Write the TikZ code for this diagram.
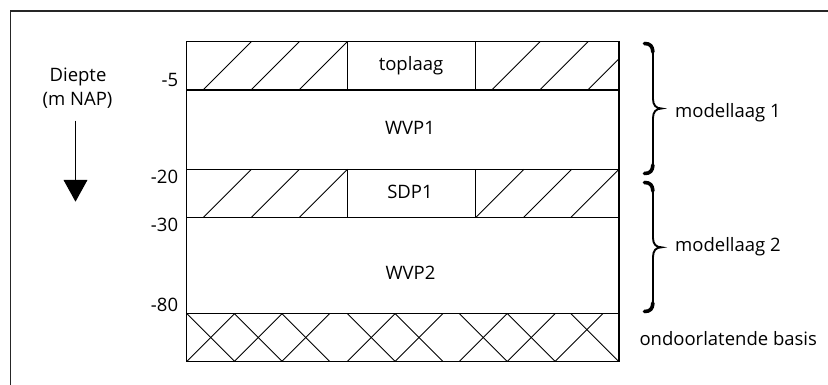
\documentclass[tikz,border=0pt]{standalone}
\usepackage{fontspec}
\setmainfont{Open Sans}
\usetikzlibrary{arrows.meta}
\begin{document}
\begin{tikzpicture}[x=1pt,y=-1pt,
  lbl/.style={font=\fontsize{18.5}{22}\selectfont, inner sep=0pt, text=black},
  outline/.style={line width=1.2pt, draw=black},
  hatch/.style={line width=0.9pt, draw=black},
  brace/.style={line width=1.9pt, line cap=round, draw=black},
  braceend/.style={line width=3.6pt, line cap=round, draw=black},
]
\useasboundingbox (0,0) rectangle (828,385);
% outer frame (open to the right and bottom)
\draw[line width=1.4pt, draw=black!85] (10.7,390) -- (10.7,11) -- (835,11);

% ---- hatching: toplaag layer (41.7 .. 90)
\foreach \b in {203,251,299}{\draw[hatch] (\b,90) -- ++(48.3,-48.3);}
\foreach \b in {491.7,539.7}{\draw[hatch] (\b,90) -- ++(48.3,-48.3);}
\draw[hatch] (587.7,90) -- (619,58.7);
% ---- hatching: SDP1 layer (169.3 .. 217.7)
\foreach \b in {203,251,299}{\draw[hatch] (\b,217.7) -- ++(48.4,-48.4);}
\foreach \b in {475.5,523.3,570.6}{\draw[hatch] (\b,217.7) -- ++(48.4,-48.4);}
% ---- cross hatching: ondoorlatende basis (313.5 .. 361.5)
\foreach \t in {186.7,234.3,281.7,347.3,395,459.3,507.3,570.7}{\draw[hatch] (\t,313.5) -- ++(48,48);}
\foreach \t in {186.7,234.3,281.7,347.3,395,459.3,507.3,555}{\draw[hatch] (\t,361.5) -- ++(48,-48);}

% ---- layer outlines
\draw[outline] (186.7,41.7) rectangle (619,361.5);
\draw[outline] (186.7,90) -- (619,90);
\draw[outline] (186.7,169.3) -- (619,169.3);
\draw[outline] (186.7,217.7) -- (619,217.7);
\draw[outline] (186.7,313.5) -- (619,313.5);
\draw[outline] (347.3,41.7) -- (347.3,90);
\draw[outline] (475.5,41.7) -- (475.5,90);
\draw[outline] (347.3,169.3) -- (347.3,217.7);
\draw[outline] (475.5,169.3) -- (475.5,217.7);

% ---- layer names
\node[lbl, anchor=base] (toplaag) at (411,70.7) {toplaag};
\node[lbl, anchor=base] (wvp1) at (410,135) {WVP1};
\node[lbl, anchor=base] (sdp1) at (410,198.8) {SDP1};
\node[lbl, anchor=base] (wvp2) at (410.5,279.3) {WVP2};

% ---- depth labels
\node[lbl, anchor=base east] (d5) at (178.3,87) {-5};
\node[lbl, anchor=base east] (d20) at (178.3,183.3) {-20};
\node[lbl, anchor=base east] (d30) at (178.3,231.7) {-30};
\node[lbl, anchor=base east] (d80) at (178.3,311.5) {-80};

% ---- depth axis
\node[lbl, anchor=base] (diepte) at (78,81.5) {Diepte};
\node[lbl, anchor=base] (nap) at (77.5,105.5) {(m NAP)};
\coordinate (arrS) at (75.5,120.7);
\coordinate (arrE) at (75.5,201.7);
\draw[line width=1.1pt, -{Triangle[width=23.7pt,length=21.7pt]}] (arrS) -- (arrE);

% ---- braces
\draw[brace] (644,43.5) .. controls (651,43.5) and (653,47) .. (653,56) -- (653,99)
  .. controls (653,105) and (656,108.5) .. (661.5,108.5)
  .. controls (656,108.5) and (653,112) .. (653,118) -- (653,161)
  .. controls (653,170) and (651,173.5) .. (644,173.5);
\draw[braceend] (644.5,43.5) .. controls (650,43.5) and (652.6,46) .. (652.9,52);
\draw[braceend] (644.5,173.5) .. controls (650,173.5) and (652.6,171) .. (652.9,165);
\draw[brace] (644,182.5) .. controls (651,182.5) and (653,186) .. (653,195) -- (653,238)
  .. controls (653,244) and (656,247.3) .. (661.5,247.3)
  .. controls (656,247.3) and (653,250.5) .. (653,257) -- (653,299)
  .. controls (653,308) and (651,311.5) .. (644,311.5);
\draw[braceend] (644.5,182.5) .. controls (650,182.5) and (652.6,185) .. (652.9,191);
\draw[braceend] (644.5,311.5) .. controls (650,311.5) and (652.6,309) .. (652.9,303);

% ---- brace labels
\node[lbl, anchor=base west] (ml1) at (675,117.3) {modellaag 1};
\node[lbl, anchor=base west] (ml2) at (675,251.7) {modellaag 2};
\node[lbl, anchor=base west] (basis) at (639.3,345) {ondoorlatende basis};
\end{tikzpicture}
\end{document}
